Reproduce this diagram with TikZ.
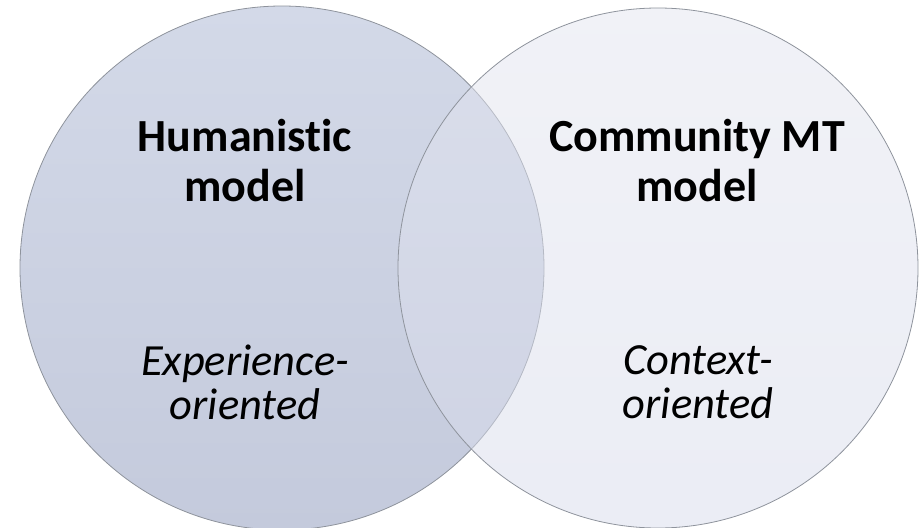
\documentclass[tikz,border=0pt]{standalone}
\usepackage{fontspec}
\setmainfont{Carlito}[Ligatures=NoCommon]
\usetikzlibrary{positioning}
\definecolor{vennline}{HTML}{8E939C}
\definecolor{humtop}{HTML}{D3D9E8}
\definecolor{humbot}{HTML}{C4CADC}
\definecolor{comtop}{HTML}{E3E5EF}
\definecolor{combot}{HTML}{D7DBEB}
\begin{document}
\begin{tikzpicture}[x=1pt,y=-1pt,semithick,font=\fontsize{44}{50}\selectfont]
			\tikzstyle{venn}=[circle,draw=vennline,line width=0.8pt,inner sep=0pt]
			\tikzstyle{title}=[align=center,font=\fontsize{46}{50}\selectfont\bfseries]
			\tikzstyle{tag}=[align=center,font=\fontsize{44.5}{44}\selectfont\itshape]
			
			\useasboundingbox (0,0) rectangle (922,528);
			
			\node[venn,minimum size=524pt,top color=humtop,bottom color=humbot]         (hum) at (282,268) {};
			\node[venn,minimum size=520pt,top color=comtop,bottom color=combot,fill opacity=0.5]         (com) at (658,268) {};
			
			\node[title]         (hum_t) at (245,161) {Humanistic\\model};
			\node[title]         (com_t) at (697,161) {Community MT\\model};
			\node[tag]           (hum_o) at (245,382) {Experience-\\oriented};
			\node[tag]           (com_o) at (698,382) {Context-\\oriented};
\end{tikzpicture}
\end{document}
